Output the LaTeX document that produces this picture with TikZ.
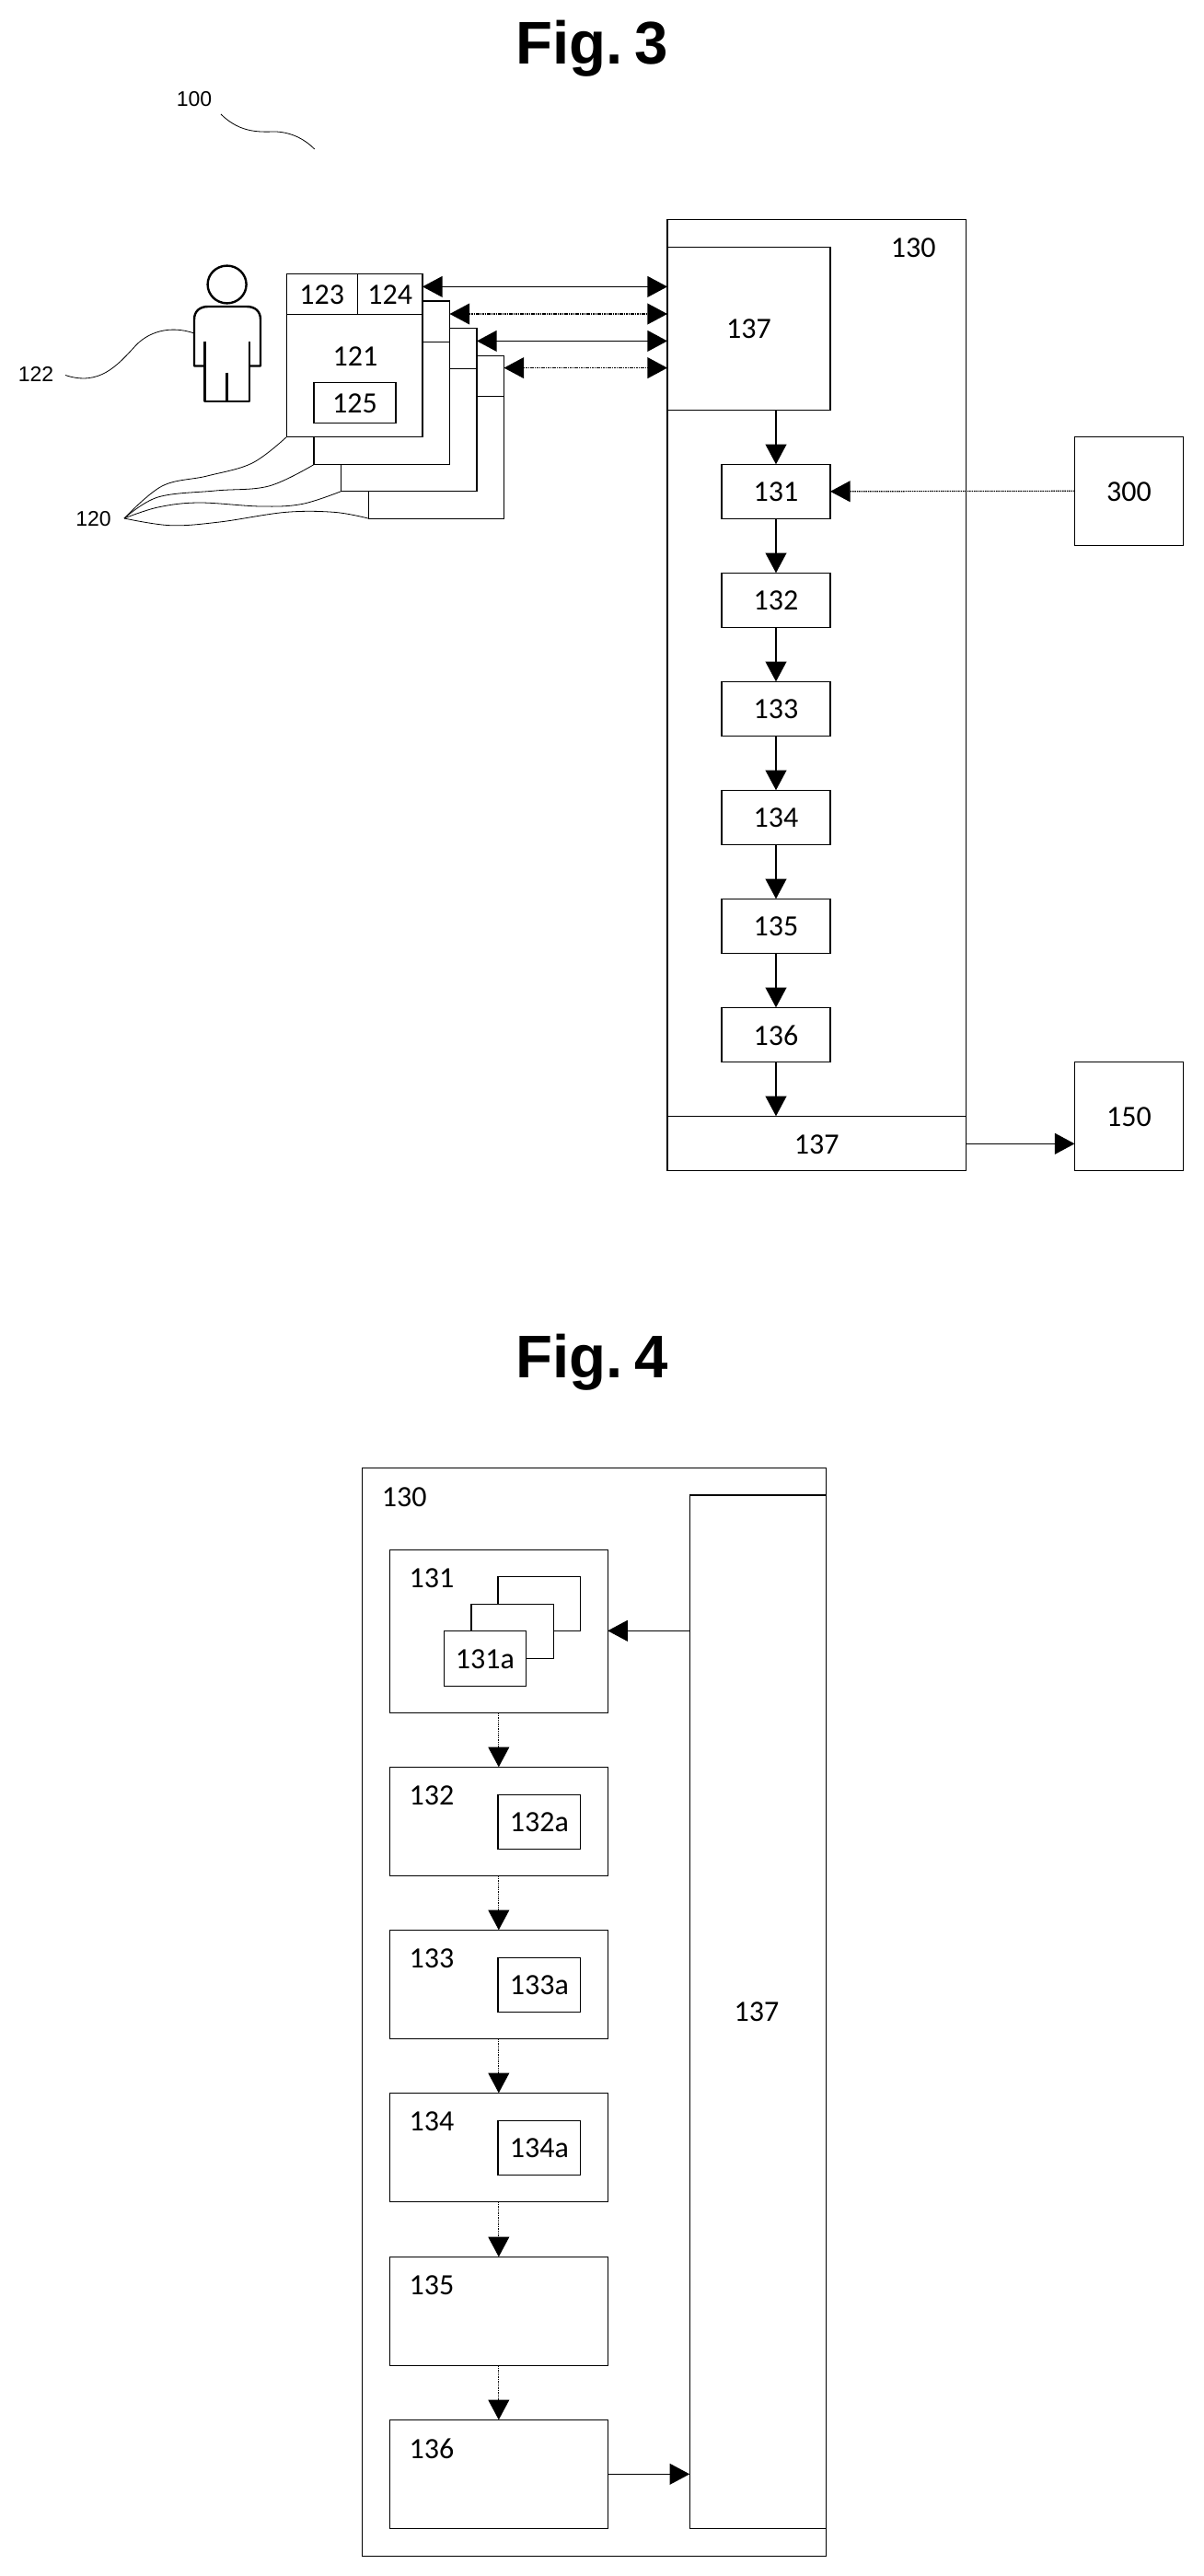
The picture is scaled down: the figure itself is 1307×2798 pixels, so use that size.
\documentclass[tikz,border=0pt]{standalone}
\usepackage{fontspec}
\setmainfont{Carlito}
\newfontfamily\titlefont{Liberation Sans}
\newfontfamily\leaderfont{Liberation Sans}
\usetikzlibrary{arrows.meta,calc,shapes.geometric}
\tikzset{
  box/.style={draw=black,fill=white,line width=0.62pt,inner sep=0pt,outer sep=0pt,
              font=\fontsize{16}{18}\selectfont},
  lbl/.style={inner sep=0pt,font=\fontsize{16}{18}\selectfont,yshift=-0.4pt},
  lead/.style={inner sep=0pt,font=\leaderfont\fontsize{11.5}{13}\selectfont},
  fig/.style={anchor=base,inner sep=0pt,font=\titlefont\bfseries\fontsize{32.7}{36}\selectfont},
  tipped/.style={line width=0.62pt,-{Triangle[length=10.8pt,width=11.4pt]}},
  both/.style={line width=0.62pt,{Triangle[length=10.8pt,width=11.4pt]}-{Triangle[length=10.8pt,width=11.4pt]}},
  dots/.style={line width=0.6pt,dash pattern=on 0.75pt off 0.45pt},
  leader/.style={line width=0.4pt},
  figure/.style={line width=1.2pt,line join=round}
}
% \boxn[options]{name}{x1}{y1}{x2}{y2}
\newcommand\boxn[6][]{%
  \pgfmathsetmacro\bw{(#5-#3)*0.5}%
  \pgfmathsetmacro\bh{(#6-#4)*0.5}%
  \pgfmathsetmacro\cx{(#5+#3)*0.5}%
  \pgfmathsetmacro\cy{(#6+#4)*0.5}%
  \node[box,minimum width=\bw pt,minimum height=\bh pt,#1] (#2) at (\cx,\cy) {};%
}
\begin{document}
\begin{tikzpicture}[x=0.5pt,y=-0.5pt]
\useasboundingbox (0,0) rectangle (1307,2798);
\fill[white] (0,0) rectangle (1307,2798);

% ---------- Fig. 3 ----------
\node[fig] (title3) at (643,69.5) {Fig.\hspace{0.2em}3};
\node[lead] (l100) at (211,108) {100};
\coordinate (c100a) at (240,124);
\coordinate (c100b) at (341.7,162);
\draw[leader] (c100a) .. controls (262,146) and (285,143) .. (300,143) .. controls (318,144) and (332,152) .. (c100b);

% outer 130
\boxn{o130}{725}{238.7}{1049.5}{1271.7}
\boxn{u137}{725}{268.3}{902}{445.3}
\node[lbl] at (u137.center) {137};
\node[lbl] (l130) at (992.3,268.3) {130};
\boxn{a131}{784}{504.3}{902}{563.3}
\boxn{a132}{784}{622.3}{902}{681.3}
\boxn{a133}{784}{740.3}{902}{799.3}
\boxn{a134}{784}{858.3}{902}{917.3}
\boxn{a135}{784}{976.3}{902}{1035.3}
\boxn{a136}{784}{1094.3}{902}{1153.3}
\boxn{b137}{725}{1212.3}{1049.5}{1271.7}
\foreach \n/\t in {a131/131,a132/132,a133/133,a134/134,a135/135,a136/136,b137/137}
  \node[lbl] at (\n.center) {\t};
\boxn{n300}{1167.5}{474.3}{1285.5}{592.3}
\boxn{n150}{1167.5}{1153.3}{1285.5}{1271.7}
\node[lbl] at (n300.center) {300};
\node[lbl] at (n150.center) {150};

\draw[tipped] (a131.north |- u137.south) -- (a131.north);
\draw[tipped] (a131) -- (a132);
\draw[tipped] (a132) -- (a133);
\draw[tipped] (a133) -- (a134);
\draw[tipped] (a134) -- (a135);
\draw[tipped] (a135) -- (a136);
\draw[tipped] (a136.south) -- (a136.south |- b137.north);
\draw[tipped,dots] (n300.west) -- (a131.east);
\coordinate (p150) at (1167.5,1242.3);
\draw[tipped] (b137.east |- p150) -- (n150.west |- p150);

% stacked devices 120
\boxn{d4}{400.6}{386.4}{547.5}{563.2}
\draw[line width=0.62pt] (d4.west |- 0,430.4) -- (d4.east |- 0,430.4);
\boxn{d3}{370.7}{356.4}{518}{533.6}
\draw[line width=0.62pt] (d3.west |- 0,400.7) -- (d3.east |- 0,400.7);
\boxn{d2}{341}{327}{488.5}{504.6}
\draw[line width=0.62pt] (d2.west |- 0,371.4) -- (d2.east |- 0,371.4);
\boxn{d1}{311.3}{297.5}{459}{474.6}
\boxn{h123}{311.3}{297.5}{388.3}{341.4}
\boxn{h124}{388.3}{297.5}{459}{341.4}
\node[lbl] at (h123.center) {123};
\node[lbl] at (h124.center) {124};
\node[lbl] (l121) at (386,386.8) {121};
\boxn{n125}{341}{415.4}{430}{459.6}
\node[lbl] at (n125.center) {125};

\coordinate (p1) at (725,311.4);
\coordinate (p2) at (725,341);
\coordinate (p3) at (725,370.4);
\coordinate (p4) at (725,399.6);
\draw[both] (d1.east |- p1) -- (u137.west |- p1);
\draw[both,dots] (d2.east |- p2) -- (u137.west |- p2);
\draw[both] (d3.east |- p3) -- (u137.west |- p3);
\draw[both,dots] (d4.east |- p4) -- (u137.west |- p4);

% person 122
\node[draw=black,line width=1.2pt,ellipse,minimum width=21pt,minimum height=20.4pt,inner sep=0pt] (head) at (246.6,309) {};
\draw[figure] (222.5,397.5) -- (211,397.5) -- (211,347) .. controls (211,338) and (217,333) .. (226,333)
   -- (268,333) .. controls (277,333) and (283,338) .. (283,347) -- (283,397.5) -- (270.7,397.5);
\draw[figure] (222.5,370.7) -- (222.5,436) -- (270.7,436) -- (270.7,370.7);
\draw[figure] (246.6,404.6) -- (246.6,436);
\node[lead] (l122) at (39,406.5) {122};
\coordinate (c122a) at (71,407.5);
\coordinate (c122b) at (211,362);
\draw[leader] (c122a) .. controls (108,420) and (128,396) .. (145,378) .. controls (160,360) and (185,353) .. (c122b);

% leaders 120
\node[lead] (l120) at (101.5,563.6) {120};
\coordinate (tip) at (135,563);
\draw[leader] plot[smooth,tension=.6] coordinates {(tip) (176,528) (225,517) (274,503) (d1.south west)};
\draw[leader] plot[smooth,tension=.6] coordinates {(tip) (171.6,540) (234,533) (292,528) (d2.south west)};
\draw[leader] plot[smooth,tension=.6] coordinates {(tip) (171.6,551) (216,546) (283,550) (328,547.5) (d3.south west)};
\draw[leader] plot[smooth,tension=.6] coordinates {(tip) (185,570.7) (238.6,567) (310,556.4) (363.6,556.4) (d4.south west)};

% ---------- Fig. 4 ----------
\node[fig] (title4) at (643,1496) {Fig.\hspace{0.2em}4};
\boxn{o4}{393.8}{1594.3}{897.4}{2776.7}
\node[lbl] (l4) at (439.3,1625) {130};
\boxn{n137}{749.2}{1624}{897.4}{2746.3}
\node[lbl] at (822,2184) {137};
\boxn{f131}{423.4}{1683.3}{660.2}{1860.3}
\boxn{f132}{423.4}{1919.3}{660.2}{2037.3}
\boxn{f133}{423.4}{2096.3}{660.2}{2214.3}
\boxn{f134}{423.4}{2273.3}{660.2}{2391.3}
\boxn{f135}{423.4}{2451.3}{660.2}{2569.3}
\boxn{f136}{423.4}{2628.3}{660.2}{2746.3}
\node[lbl] at (469,1713.3) {131};
\node[lbl] at (469,1949) {132};
\node[lbl] at (469,2126) {133};
\node[lbl] at (469,2303.5) {134};
\node[lbl] at (469,2481.7) {135};
\node[lbl] at (469,2659.3) {136};
\boxn{s3}{541}{1712.3}{630.8}{1771.3}
\boxn{s2}{512}{1742.3}{601.5}{1801.3}
\boxn{s1}{482.5}{1771.3}{571.2}{1831.3}
\node[lbl] at (s1.center) {131a};
\boxn{s132}{541}{1949.3}{630.8}{2008.3}
\node[lbl] at (s132.center) {132a};
\boxn{s133}{541}{2126.3}{630.8}{2185.3}
\node[lbl] at (s133.center) {133a};
\boxn{s134}{541}{2303.3}{630.8}{2362.3}
\node[lbl] at (s134.center) {134a};

\draw[tipped,dots] (f131) -- (f132);
\draw[tipped,dots] (f132) -- (f133);
\draw[tipped,dots] (f133) -- (f134);
\draw[tipped,dots] (f134) -- (f135);
\draw[tipped,dots] (f135) -- (f136);
\coordinate (q1) at (749.2,1771.3);
\coordinate (q2) at (749.2,2687.3);
\draw[tipped] (n137.west |- q1) -- (f131.east |- q1);
\draw[tipped] (f136.east |- q2) -- (n137.west |- q2);
\end{tikzpicture}
\end{document}
